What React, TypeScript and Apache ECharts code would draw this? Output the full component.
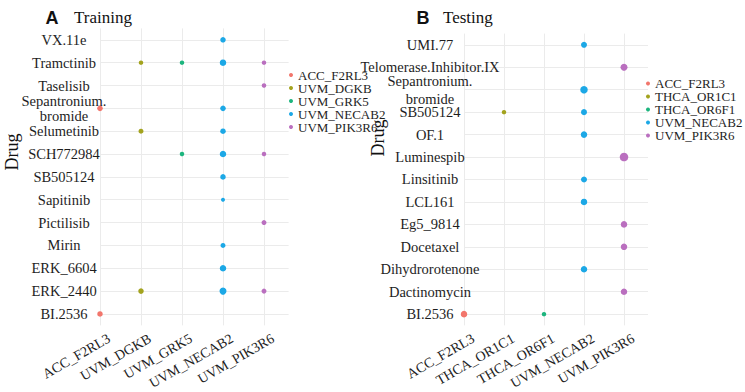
import React, { useEffect, useRef } from "react";
import * as echarts from "echarts";

// ---------- Panel A: Training ----------
const trainDrugs = [
  "VX.11e",
  "Tramctinib",
  "Taselisib",
  "Sepantronium.\nbromide",
  "Selumetinib",
  "SCH772984",
  "SB505124",
  "Sapitinib",
  "Pictilisib",
  "Mirin",
  "ERK_6604",
  "ERK_2440",
  "BI.2536",
];
const trainGenes = ["ACC_F2RL3", "UVM_DGKB", "UVM_GRK5", "UVM_NECAB2", "UVM_PIK3R6"];
// [drug, dot size]
const trainACC_F2RL3: [string, number][] = [
  ["Sepantronium.\nbromide", 5.5],
  ["BI.2536", 5.5],
];
const trainUVM_DGKB: [string, number][] = [
  ["Tramctinib", 4.5],
  ["Selumetinib", 5],
  ["ERK_2440", 5.5],
];
const trainUVM_GRK5: [string, number][] = [
  ["Tramctinib", 4.5],
  ["SCH772984", 4.5],
];
const trainUVM_NECAB2: [string, number][] = [
  ["VX.11e", 5.5],
  ["Tramctinib", 6.5],
  ["Sepantronium.\nbromide", 5.5],
  ["Selumetinib", 5.5],
  ["SCH772984", 6.5],
  ["SB505124", 5.5],
  ["Sapitinib", 4],
  ["Mirin", 5],
  ["ERK_6604", 6.5],
  ["ERK_2440", 7],
];
const trainUVM_PIK3R6: [string, number][] = [
  ["Tramctinib", 4.5],
  ["Taselisib", 4.5],
  ["SCH772984", 4.5],
  ["Pictilisib", 5],
  ["ERK_2440", 5],
];
const trainSeries = [trainACC_F2RL3, trainUVM_DGKB, trainUVM_GRK5, trainUVM_NECAB2, trainUVM_PIK3R6];

// ---------- Panel B: Testing ----------
const testDrugs = [
  "UMI.77",
  "Telomerase.Inhibitor.IX",
  "Sepantronium.\nbromide",
  "SB505124",
  "OF.1",
  "Luminespib",
  "Linsitinib",
  "LCL161",
  "Eg5_9814",
  "Docetaxel",
  "Dihydrorotenone",
  "Dactinomycin",
  "BI.2536",
];
const testGenes = ["ACC_F2RL3", "THCA_OR1C1", "THCA_OR6F1", "UVM_NECAB2", "UVM_PIK3R6"];
const testACC_F2RL3: [string, number][] = [["BI.2536", 6.5]];
const testTHCA_OR1C1: [string, number][] = [["SB505124", 4.5]];
const testTHCA_OR6F1: [string, number][] = [["BI.2536", 4.5]];
const testUVM_NECAB2: [string, number][] = [
  ["UMI.77", 6],
  ["Sepantronium.\nbromide", 7.5],
  ["SB505124", 6],
  ["OF.1", 6.5],
  ["Linsitinib", 6],
  ["LCL161", 6.5],
  ["Dihydrorotenone", 6.5],
];
const testUVM_PIK3R6: [string, number][] = [
  ["Telomerase.Inhibitor.IX", 7],
  ["Luminespib", 8.5],
  ["Eg5_9814", 6.5],
  ["Docetaxel", 6.5],
  ["Dactinomycin", 6.5],
];
const testSeries = [testACC_F2RL3, testTHCA_OR1C1, testTHCA_OR6F1, testUVM_NECAB2, testUVM_PIK3R6];

const COLORS = ["#F2766C", "#A3A31E", "#1DB57E", "#1CA8E6", "#BA6FBF"];
const SERIF = "Liberation Serif";
const SANS = "Liberation Sans";
const TEXT = "#1e1e1e";
const GRIDLINE = "#EBEBEB";

function isInt(v: number) {
  return Math.abs(v - Math.round(v)) < 1e-6;
}

function buildOption() {
  const mkYAxis = (grid: number, data: string[], margin: number, lh: number) => ({
    type: "category",
    gridIndex: grid,
    data,
    inverse: true,
    boundaryGap: true,
    axisLine: { show: false },
    axisTick: { show: false },
    splitLine: { show: true, alignWithLabel: true, lineStyle: { color: GRIDLINE, width: 1 } },
    axisLabel: {
      interval: 0,
      align: "center",
      margin,
      fontFamily: SERIF,
      fontSize: 14.5,
      color: TEXT,
      lineHeight: lh,
    },
  });
  const mkDataX = (grid: number) => ({
    type: "value",
    gridIndex: grid,
    min: 0,
    max: 4.6,
    interval: 1,
    position: "bottom",
    axisLine: { show: false },
    axisTick: { show: false },
    axisLabel: { show: false },
    splitLine: { show: true, showMaxLine: false, lineStyle: { color: GRIDLINE, width: 1 } },
  });
  const mkLabelX = (grid: number, genes: string[], shift: number) => ({
    type: "value",
    gridIndex: grid,
    min: -shift,
    max: 4.6 - shift,
    position: "bottom",
    axisLine: { show: false },
    axisTick: { show: false },
    splitLine: { show: false },
    axisLabel: {
      rotate: 30,
      margin: 12,
      fontFamily: SERIF,
      fontSize: 14,
      color: TEXT,
      showMinLabel: true,
      showMaxLabel: true,
      formatter: (v: number) => (isInt(v) && genes[Math.round(v)] ? genes[Math.round(v)] : ""),
    },
  });

  const series: any[] = [];
  trainSeries.forEach((arr, i) => {
    series.push({
      type: "scatter",
      name: trainGenes[i],
      xAxisIndex: 0,
      yAxisIndex: 0,
      data: arr.map(([d, s]) => [i, d, s]),
      symbolSize: (v: any[]) => v[2],
      itemStyle: { color: COLORS[i], opacity: 1 },
      clip: false,
    });
  });
  testSeries.forEach((arr, i) => {
    series.push({
      type: "scatter",
      name: testGenes[i],
      xAxisIndex: 2,
      yAxisIndex: 1,
      data: arr.map(([d, s]) => [i, d, s]),
      symbolSize: (v: any[]) => v[2],
      itemStyle: { color: COLORS[i], opacity: 1 },
      clip: false,
    });
  });

  const legendBase = {
    orient: "vertical",
    icon: "circle",
    itemWidth: 4,
    itemHeight: 4,
    itemGap: 0,
    padding: 0,
    selectedMode: false,
  };

  const txt = (text: string, x: number, y: number, size: number, family: string, weight: string, rot = 0) => ({
    type: "text",
    x,
    y,
    rotation: rot,
    style: {
      text,
      fontFamily: family,
      fontSize: size,
      fontWeight: weight,
      fill: "#111",
      align: rot ? "center" : family === SANS ? "center" : "left",
      verticalAlign: "middle",
    },
  });

  return {
    animation: false,
    backgroundColor: "#ffffff",
    textStyle: { fontFamily: SERIF },
    grid: [
      { left: 100, top: 28.4, width: 188.6, height: 302.25 },
      { left: 464, top: 33.6, width: 184, height: 295.75 },
    ],
    xAxis: [mkDataX(0), mkLabelX(0, trainGenes, 0.22), mkDataX(1), mkLabelX(1, testGenes, 0.23)],
    yAxis: [mkYAxis(0, trainDrugs, 36, 15), mkYAxis(1, testDrugs, 34, 18)],
    legend: [
      {
        ...legendBase,
        data: trainGenes,
        left: 289,
        top: 68.5,
        textStyle: { fontFamily: SERIF, fontSize: 13, lineHeight: 11, color: TEXT },
      },
      {
        ...legendBase,
        data: testGenes,
        left: 646,
        top: 77,
        textStyle: { fontFamily: SERIF, fontSize: 13, lineHeight: 11.7, color: TEXT },
      },
    ],
    graphic: [
      txt("A", 52, 18, 18, SANS, "bold"),
      txt("Training", 74, 17, 17, SERIF, "normal"),
      txt("B", 423, 18, 18, SANS, "bold"),
      txt("Testing", 443, 17, 17, SERIF, "normal"),
      txt("Drug", 12, 152, 18, SERIF, "normal", Math.PI / 2),
      txt("Drug", 378, 138, 18, SERIF, "normal", Math.PI / 2),
    ],
    series,
  };
}

export default function App() {
  const ref = useRef<HTMLDivElement>(null);
  useEffect(() => {
    if (!ref.current) return;
    const chart = echarts.init(ref.current, undefined, { renderer: "svg" });
    chart.setOption(buildOption() as any);
    return () => chart.dispose();
  }, []);
  return <div ref={ref} style={{ width: 745, height: 392, position: "absolute", left: 0, top: 0 }} />;
}
